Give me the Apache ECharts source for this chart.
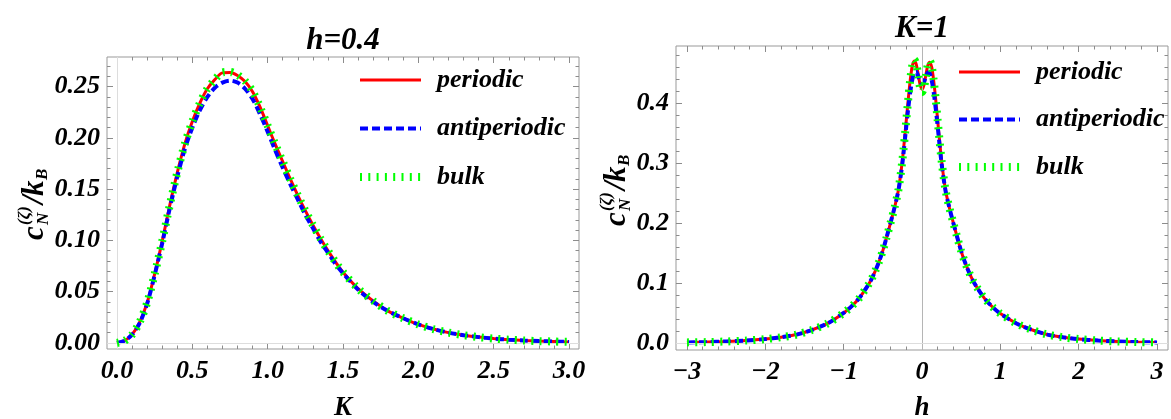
<!DOCTYPE html>
<html>
<head>
<meta charset="utf-8">
<script src="https://cdn.jsdelivr.net/npm/echarts@6/dist/echarts.min.js"></script>
<style>
html,body{margin:0;padding:0;background:#fff;}
#chart{width:1171px;height:419px;}
</style>
</head>
<body>
<div id="chart"></div>
<script>
// ---------- data ----------
const leftTitle = 'h=0.4';
const rightTitle = 'K=1';
const seriesNames = ['periodic', 'antiperiodic', 'bulk'];

const leftK = [0,0.05,0.1,0.15,0.2,0.25,0.3,0.35,0.4,0.45,0.5,0.55,0.6,0.65,0.7,0.75,0.8,0.85,0.9,0.95,1.0,1.05,1.1,1.15,1.2,1.25,1.3,1.35,1.4,1.45,1.5,1.6,1.7,1.8,1.9,2.0,2.1,2.2,2.3,2.4,2.5,2.6,2.7,2.8,2.9,3.0];
const leftPeriodic = [0,0.002,0.008,0.020,0.039,0.067,0.099,0.134,0.166,0.194,0.216,0.234,0.248,0.257,0.2635,0.2638,0.261,0.255,0.245,0.230,0.212,0.194,0.177,0.160,0.144,0.129,0.115,0.102,0.090,0.079,0.069,0.053,0.041,0.031,0.024,0.018,0.0135,0.010,0.0075,0.0056,0.0042,0.0031,0.0023,0.0017,0.0013,0.0009];
const leftAnti = [0,0.002,0.008,0.019,0.038,0.066,0.097,0.131,0.162,0.189,0.210,0.227,0.240,0.249,0.254,0.256,0.254,0.248,0.238,0.223,0.206,0.188,0.171,0.155,0.140,0.125,0.112,0.099,0.088,0.077,0.068,0.052,0.040,0.031,0.024,0.018,0.0135,0.010,0.0075,0.0056,0.0042,0.0031,0.0023,0.0017,0.0013,0.0009];
const leftBulk = [0,0.002,0.008,0.020,0.039,0.067,0.099,0.134,0.166,0.194,0.216,0.234,0.248,0.257,0.264,0.2645,0.2615,0.2555,0.2455,0.230,0.212,0.194,0.177,0.160,0.144,0.129,0.115,0.102,0.090,0.079,0.069,0.053,0.041,0.031,0.024,0.018,0.0135,0.010,0.0075,0.0056,0.0042,0.0031,0.0023,0.0017,0.0013,0.0009];

const rightH = [-3,-2.75,-2.5,-2.25,-2,-1.8,-1.6,-1.4,-1.2,-1,-0.9,-0.8,-0.7,-0.65,-0.6,-0.55,-0.5,-0.45,-0.4,-0.35,-0.3,-0.25,-0.2,-0.175,-0.15,-0.125,-0.1,-0.075,-0.05,-0.025,0,0.025,0.05,0.075,0.1,0.125,0.15,0.175,0.2,0.25,0.3,0.35,0.4,0.45,0.5,0.55,0.6,0.65,0.7,0.8,0.9,1,1.2,1.4,1.6,1.8,2,2.25,2.5,2.75,3];
const rightPeriodic = [0.001,0.0015,0.0025,0.004,0.0065,0.0095,0.014,0.022,0.033,0.050,0.061,0.075,0.094,0.105,0.119,0.135,0.154,0.177,0.201,0.226,0.256,0.305,0.372,0.407,0.438,0.461,0.470,0.465,0.449,0.431,0.423,0.430,0.447,0.463,0.468,0.459,0.436,0.406,0.371,0.304,0.255,0.225,0.200,0.176,0.153,0.134,0.118,0.104,0.093,0.074,0.060,0.049,0.033,0.022,0.014,0.0095,0.0065,0.004,0.0025,0.0015,0.001];
const rightAnti = [0.001,0.0015,0.0025,0.004,0.0065,0.0095,0.014,0.022,0.033,0.050,0.061,0.075,0.094,0.105,0.119,0.135,0.154,0.177,0.201,0.226,0.255,0.300,0.362,0.392,0.418,0.438,0.450,0.452,0.445,0.436,0.432,0.435,0.444,0.451,0.449,0.437,0.417,0.391,0.361,0.299,0.254,0.225,0.200,0.176,0.153,0.134,0.118,0.104,0.093,0.074,0.060,0.049,0.033,0.022,0.014,0.0095,0.0065,0.004,0.0025,0.0015,0.001];
const rightBulk = [0.001,0.0015,0.0025,0.004,0.0065,0.0095,0.014,0.022,0.033,0.050,0.061,0.075,0.094,0.105,0.119,0.135,0.154,0.177,0.201,0.226,0.256,0.305,0.372,0.407,0.439,0.462,0.472,0.466,0.447,0.426,0.418,0.425,0.445,0.464,0.470,0.460,0.437,0.406,0.371,0.304,0.255,0.225,0.200,0.176,0.153,0.134,0.118,0.104,0.093,0.074,0.060,0.049,0.033,0.022,0.014,0.0095,0.0065,0.004,0.0025,0.0015,0.001];

const leftXTicks = [0, 0.5, 1, 1.5, 2, 2.5, 3];
const leftYTicks = [0, 0.05, 0.10, 0.15, 0.20, 0.25];
const rightXTicks = [-3, -2, -1, 0, 1, 2, 3];
const rightYTicks = [0, 0.1, 0.2, 0.3, 0.4];

// ---------- styling / layout ----------
const FONT = '"Liberation Serif", "Times New Roman", serif';
const RED = '#ff0000', BLUE = '#0000ff', GREEN = '#00ff00';

function minorsOf(from, to, step, majorEvery) {
  const out = [];
  for (let i = from; i <= to; i++) {
    if (i % majorEvery !== 0) out.push(+(i * step).toFixed(4));
  }
  return out;
}
const leftXMinor = minorsOf(1, 29, 0.1, 5);
const leftYMinor = minorsOf(1, 27, 0.01, 5);
const rightXMinor = minorsOf(-15, 15, 0.2, 5);
const rightYMinor = minorsOf(1, 24, 0.02, 5);

function mkAxes(dim, gridIndex, min, max, majors, minors, fmt, margin) {
  const pos = dim === 'x' ? ['bottom', 'top'] : ['left', 'right'];
  const arr = [];
  pos.forEach((p, side) => {
    [[majors, 6], [minors, 3.5]].forEach(([vals, len], k) => {
      arr.push({
        type: 'value', gridIndex: gridIndex, position: p, min: min, max: max,
        axisLine: { show: false, onZero: false },
        splitLine: { show: false },
        minorTick: { show: false },
        axisPointer: { show: false },
        axisTick: { show: true, inside: true, length: len, customValues: vals,
          lineStyle: { color: '#8c8c8c', width: 1 } },
        axisLabel: (side === 0 && k === 0) ? {
          show: true, customValues: majors, formatter: fmt, margin: margin,
          fontFamily: FONT, fontWeight: 'bold', fontStyle: 'italic', fontSize: 26, color: '#000'
        } : { show: false }
      });
    });
  });
  return arr;
}

const fmtMinus = v => (v < 0 ? '\u2212' + (-v) : String(v));

const xAxes = [].concat(
  mkAxes('x', 0, -0.066, 3.066, leftXTicks, leftXMinor, v => v.toFixed(1), 9),
  mkAxes('x', 1, -3.14, 3.14, rightXTicks, rightXMinor, fmtMinus, 9)
);
const yAxes = [].concat(
  mkAxes('y', 0, -0.006, 0.279, leftYTicks, leftYMinor, v => v.toFixed(2), 7),
  mkAxes('y', 1, -0.0117, 0.495, rightYTicks, rightYMinor, v => v.toFixed(1), 7)
);

function pairs(xs, ys) { return xs.map((x, i) => [x, ys[i]]); }

const styles = {
  periodic: { color: RED, width: 3, type: 'solid' },
  antiperiodic: { color: BLUE, width: 4, type: [8, 4] },
  bulk: { color: GREEN, width: 8, type: [2, 6.3] }
};

function lineSeries(name, g, xs, ys, z) {
  return {
    type: 'line', name: name, xAxisIndex: g * 4, yAxisIndex: g * 4,
    data: pairs(xs, ys), symbol: 'none', showSymbol: false, smooth: 0.3,
    lineStyle: Object.assign({ cap: 'butt' }, styles[name]),
    itemStyle: { color: styles[name].color }, z: z, silent: true
  };
}

function zeroLines(g, vColor, hColor) {
  return {
    type: 'line', xAxisIndex: g * 4, yAxisIndex: g * 4, data: [], symbol: 'none',
    silent: true, z: 1,
    markLine: {
      silent: true, symbol: ['none', 'none'], label: { show: false }, animation: false,
      data: [
        { xAxis: 0, lineStyle: { color: vColor, type: 'solid', width: 1 } },
        { yAxis: 0, lineStyle: { color: hColor, type: 'solid', width: 1 } }
      ]
    }
  };
}

function legend(left, top, gap) {
  return {
    left: left, top: top, padding: 0, orient: 'vertical', itemWidth: 61, itemHeight: 14, itemGap: gap,
    selectedMode: false,
    itemStyle: { opacity: 0, borderWidth: 0 },
    textStyle: { fontFamily: FONT, fontWeight: 'bold', fontStyle: 'italic', fontSize: 26,
      color: '#000', lineHeight: 30, padding: [0, 0, 0, 11] },
    data: seriesNames.map(n => ({ name: n,
      itemStyle: { opacity: 0, borderWidth: 0 },
      lineStyle: Object.assign({ cap: 'butt', opacity: 1 }, styles[n]) }))
  };
}

function txt(x, y, text, size, align) {
  return { type: 'text', x: x, y: y, silent: true,
    style: { text: text, fontFamily: FONT, fontWeight: 'bold', fontStyle: 'italic', fontSize: size,
      fill: '#000', align: align || 'center', verticalAlign: 'middle',
      textAlign: align || 'center', textVerticalAlign: 'middle' } };
}

function yLabel(x, y) {
  return {
    type: 'group', x: x, y: y, rotation: Math.PI / 2,
    children: [
      txt(-36, 0, 'c', 31, 'left'),
      txt(-21, -10, '(\u03B6)', 17, 'left'),
      txt(-21, 9, 'N', 17, 'left'),
      txt(0, 0, '/', 31, 'left'),
      txt(8, 0, 'k', 31, 'left'),
      txt(24, 8, 'B', 17, 'left')
    ]
  };
}

const option = {
  animation: false,
  backgroundColor: '#fff',
  grid: [
    { left: 107, top: 57, width: 472, height: 292, show: true, borderColor: '#999', borderWidth: 1, backgroundColor: 'transparent' },
    { left: 676, top: 46, width: 492, height: 304, show: true, borderColor: '#999', borderWidth: 1, backgroundColor: 'transparent' }
  ],
  xAxis: xAxes,
  yAxis: yAxes,
  legend: [legend(356, 65, 18.5), legend(955, 57, 17.5)],
  series: [
    zeroLines(0, '#dddddd', '#dddddd'),
    lineSeries('periodic', 0, leftK, leftPeriodic, 3),
    lineSeries('antiperiodic', 0, leftK, leftAnti, 4),
    lineSeries('bulk', 0, leftK, leftBulk, 5),
    zeroLines(1, '#b5b5b5', '#dddddd'),
    lineSeries('periodic', 1, rightH, rightPeriodic, 3),
    lineSeries('antiperiodic', 1, rightH, rightAnti, 4),
    lineSeries('bulk', 1, rightH, rightBulk, 5)
  ],
  graphic: [
    txt(343, 41, leftTitle, 31),
    txt(922, 29, rightTitle, 31),
    txt(343, 408, 'K', 27),
    txt(922, 408, 'h', 27),
    yLabel(35, 204),
    yLabel(617, 190)
  ]
};

const chart = echarts.init(document.getElementById('chart'), null, { renderer: 'canvas' });
chart.setOption(option);
</script>
</body>
</html>
